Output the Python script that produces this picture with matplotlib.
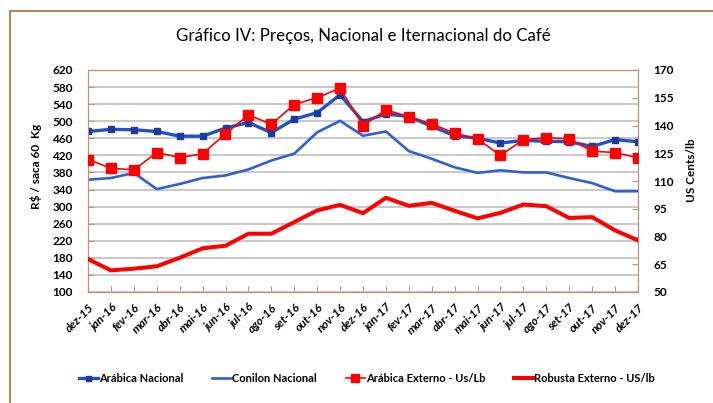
import matplotlib
matplotlib.use("Agg")
import matplotlib.pyplot as plt
from matplotlib.patches import Rectangle

plt.rcParams['font.family'] = ['Lato', 'DejaVu Sans']

meses = ['dez-15', 'jan-16', 'fev-16', 'mar-16', 'abr-16', 'mai-16', 'jun-16', 'jul-16',
         'ago-16', 'set-16', 'out-16', 'nov-16', 'dez-16', 'jan-17', 'fev-17', 'mar-17',
         'abr-17', 'mai-17', 'jun-17', 'jul-17', 'ago-17', 'set-17', 'out-17', 'nov-17', 'dez-17']

# R$ / saca 60 kg
arabica_nac = [476, 481, 480, 476, 465, 465, 484, 497, 473, 505, 520, 562, 499,
               517, 511, 488, 466, 460, 449, 455, 453, 452, 441, 457, 452]
conilon_nac = [363, 367, 379, 341, 353, 367, 373, 387, 408, 424, 474, 501, 466,
               476, 430, 412, 392, 379, 385, 380, 380, 367, 355, 336, 336]

# US cents / lb
arabica_ext = [121.6, 116.9, 116.0, 125.4, 122.7, 124.7, 135.5, 145.7, 140.7, 151.3, 155.1, 160.1, 140.0,
               148.4, 144.8, 140.9, 135.8, 132.8, 123.8, 132.4, 133.3, 132.8, 126.1, 125.4, 122.5]
robusta_ext = [67.8, 61.7, 62.6, 63.9, 68.5, 73.6, 75.0, 81.5, 81.5, 87.8, 94.1, 97.1, 92.6,
               100.9, 96.6, 98.2, 93.9, 89.8, 92.8, 97.3, 96.4, 90.0, 90.5, 83.3, 77.9]

x = list(range(len(meses)))
cor_eixo = '#C09070'
azul = '#2F5FD6'
vermelho = '#FF0000'

fig = plt.figure(figsize=(7.13, 4.03), dpi=100)
fig.add_artist(Rectangle((10/713, -0.1), 1.2, 1.1 - 11/403, transform=fig.transFigure,
                         fill=False, edgecolor='#B47A4E', linewidth=1.3))

ax = fig.add_axes([88/713, 1 - 292/403, 550/713, 222/403])
ax2 = ax.twinx()

l1, = ax.plot(x, arabica_nac, color='#2450C8', lw=2.4, marker='s', ms=4.5,
              mfc='#1C3C9C', mec='#1C3C9C', label='Arábica Nacional', zorder=4)
l2, = ax.plot(x, conilon_nac, color=azul, lw=1.9, label='Conilon Nacional', zorder=3)
l3, = ax2.plot(x, arabica_ext, color=vermelho, lw=1.2, marker='s', ms=6.5,
               label='Arábica Externo - Us/Lb', zorder=4)
l4, = ax2.plot(x, robusta_ext, color=vermelho, lw=2.9, label='Robusta Externo - US/lb', zorder=3)

ax.set_xlim(0, len(meses) - 1)
ax.set_ylim(100, 620)
ax.set_yticks(range(100, 621, 40))
ax2.set_ylim(50, 170)
ax2.set_yticks(range(50, 171, 15))
ax.yaxis.grid(True, color='#C8C8C8', lw=1.4)
ax.set_axisbelow(True)

ax.set_xticks(x)
ax.set_xticklabels(meses, rotation=45, ha='right', rotation_mode='anchor',
                   fontsize=8.5, fontweight='bold', fontstyle='italic')
for a in (ax, ax2):
    for s in a.spines.values():
        s.set_color(cor_eixo)
    a.tick_params(colors=cor_eixo, direction='in', length=4, labelcolor='black',
                  labelsize=8.5)
    for t in a.get_yticklabels():
        t.set_fontweight('bold')
ax.tick_params(axis='x', pad=7)
ax.tick_params(axis='y', pad=11)
ax2.tick_params(axis='y', pad=11)

ax.set_ylabel('R$ / saca 60  Kg', fontsize=8.5, fontweight='bold')
ax.yaxis.set_label_coords((36 - 88) / 550, (292 - 166) / 222)
ax.yaxis.label.set_va('center')
ax2.set_ylabel('US Cents/lb', fontsize=8.5, fontweight='bold', rotation=90)
ax2.yaxis.set_label_coords((692 - 88) / 550, (292 - 170) / 222)
ax2.yaxis.label.set_va('center')

fig.text(363/713, 1 - 36/403, 'Gráfico IV: Preços, Nacional e Iternacional do Café',
         ha='center', va='center', fontsize=12.2, color='black')

fig.legend(handles=[l1, l2, l3, l4], loc='center', bbox_to_anchor=(367/713, 1 - 378/403),
           ncol=4, frameon=False, prop={'weight': 'bold', 'size': 8},
           handlelength=1.7, handletextpad=0.1, columnspacing=2.6, markerscale=0.8)

fig.savefig('out.png', dpi=100)
